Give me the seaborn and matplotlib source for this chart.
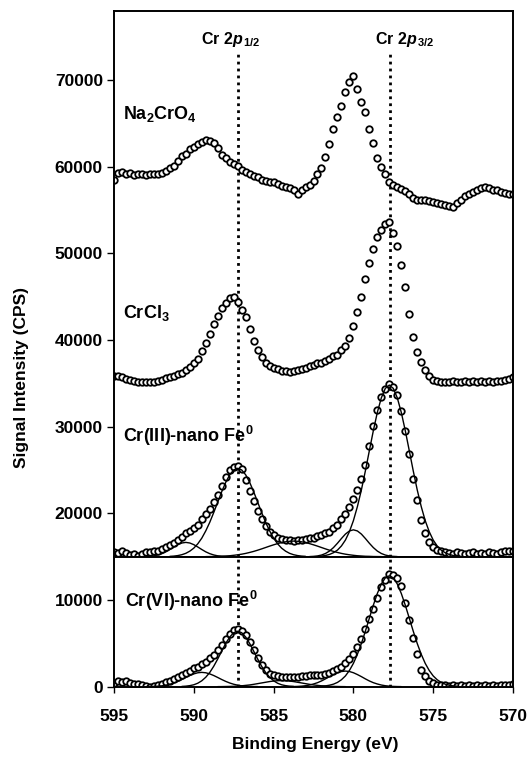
import numpy as np
import matplotlib
matplotlib.use('Agg')
import matplotlib.pyplot as plt
import seaborn as sns

# binding energy grid of the scans (eV), 0.25 eV steps from 595 down to 570
energy = np.linspace(595, 570, 101)

na2cro4 = [58500, 59300, 59400, 59100, 59300, 59000, 59200, 59100, 59000, 59100,
           59200, 59100, 59300, 59500, 59800, 60100, 60600, 61200, 61500, 62000,
           62300, 62600, 62900, 63100, 63000, 62700, 62100, 61400, 61000, 60500,
           60300, 60100, 59600, 59400, 59100, 58900, 58800, 58500, 58400, 58200,
           58200, 58000, 57800, 57600, 57500, 57300, 56900, 57300, 57600, 57900,
           58400, 59200, 59900, 61100, 62600, 64300, 65700, 67000, 68600, 69800,
           70500, 69000, 67500, 66300, 64300, 62700, 61000, 60000, 59200, 58200,
           57900, 57600, 57400, 57200, 56800, 56400, 56200, 56200, 56100, 56000,
           55900, 55800, 55700, 55600, 55500, 55300, 55800, 56200, 56600, 56900,
           57100, 57300, 57500, 57700, 57500, 57300, 57300, 57100, 57000, 56900,
           56900]

crcl3 = [35900, 35800, 35700, 35500, 35400, 35300, 35200, 35200, 35100, 35100,
         35200, 35300, 35400, 35600, 35700, 35900, 36100, 36200, 36500, 36900,
         37300, 37800, 38700, 39700, 40700, 41800, 42800, 43700, 44300, 44900,
         45000, 44400, 43500, 42600, 41300, 39900, 38800, 38000, 37400, 37000,
         36800, 36600, 36400, 36400, 36300, 36400, 36500, 36600, 36800, 37000,
         37100, 37300, 37400, 37600, 37800, 38100, 38300, 38800, 39300, 40200,
         41600, 43200, 45000, 47000, 48900, 50500, 51900, 52700, 53400, 53600,
         52300, 50800, 48700, 46100, 43000, 40300, 38600, 37500, 36500, 35800,
         35400, 35300, 35200, 35200, 35200, 35300, 35200, 35200, 35300, 35200,
         35300, 35200, 35300, 35200, 35300, 35200, 35300, 35300, 35400, 35500,
         35700]

cr3_nfe = [15500, 15400, 15600, 15400, 15200, 15300, 15100, 15300, 15500, 15500,
           15600, 15700, 15900, 16100, 16300, 16600, 16900, 17300, 17700, 18000,
           18300, 18700, 19300, 19900, 20500, 21300, 22100, 23100, 24200, 25000,
           25400, 25500, 25100, 23800, 22600, 21400, 20300, 19300, 18500, 17900,
           17500, 17200, 17000, 16900, 16900, 16800, 16900, 16900, 17000, 17100,
           17200, 17400, 17500, 17700, 17900, 18300, 18700, 19300, 19900, 20700,
           21700, 22700, 24000, 25600, 27800, 30100, 31900, 33400, 34400, 34900,
           34600, 33600, 31800, 29500, 26800, 24000, 21500, 19200, 17700, 16700,
           16100, 15800, 15600, 15500, 15400, 15300, 15500, 15400, 15300, 15400,
           15500, 15300, 15400, 15300, 15500, 15400, 15300, 15500, 15600, 15700,
           15600]

cr6_nfe = [400, 600, 500, 600, 400, 300, 300, 200, 100, 0,
           100, 200, 300, 500, 700, 900, 1100, 1400, 1600, 1800,
           2100, 2300, 2600, 2900, 3300, 3700, 4200, 4800, 5500, 6100,
           6500, 6600, 6400, 6000, 5100, 4200, 3300, 2500, 1900, 1500,
           1300, 1200, 1150, 1100, 1100, 1100, 1150, 1200, 1250, 1300,
           1300, 1350, 1400, 1500, 1600, 1800, 2000, 2300, 2700, 3200,
           3800, 4600, 5500, 6600, 7800, 9000, 10200, 11500, 12300, 13000,
           12900, 12500, 11600, 9600, 7700, 5600, 3800, 1900, 1200, 700,
           400, 250, 200, 150, 100, 150, 100, 150, 100, 150,
           100, 150, 100, 150, 100, 150, 100, 150, 200, 200,
           300]

# fitted components: (first energy, values above baseline every 0.25 eV)
cr3_base = 15000
cr3_fit_a = (593.25, [10, 20, 50, 100, 200, 350, 560, 830, 1120, 1390, 1580, 1650, 1580,
                      1390, 1120, 830, 560, 350, 200, 100, 50, 20, 10])
cr3_fit_b = (591.5, [40, 70, 130, 230, 390, 640, 990, 1490, 2140, 2980, 3970, 5100, 6300,
                     7500, 8580, 9450, 10010, 10200, 10010, 9450, 8580, 7500, 6300, 5100,
                     3970, 2980, 2140, 1490, 990, 640, 390, 230, 130, 70, 40])
cr3_fit_c = (589.25, [10, 15, 20, 40, 50, 80, 110, 160, 220, 290, 380, 490, 610, 750, 900,
                      1060, 1220, 1370, 1510, 1630, 1720, 1780, 1800, 1780, 1720, 1630, 1510,
                      1370, 1220, 1060, 900, 750, 610, 490, 380, 290, 220, 160, 110, 80, 50,
                      40, 20, 15, 10])
cr3_fit_d = (582.75, [15, 40, 90, 190, 370, 650, 1050, 1550, 2100, 2610, 2970, 3100, 2970,
                      2610, 2100, 1550, 1050, 650, 370, 190, 90, 40, 15])
cr3_fit_e = (582.0, [75, 140, 260, 460, 760, 1240, 1920, 2890, 4160, 5780, 7700, 9900, 12240,
                     14550, 16650, 18330, 19420, 19800, 19420, 18330, 16650, 14550, 12240,
                     9900, 7700, 5780, 4160, 2890, 1920, 1240, 760, 460, 260, 140, 75])

cr6_base = 0
cr6_fit_a = (593.0, [10, 15, 30, 60, 100, 175, 280, 425, 610, 825, 1060, 1285, 1475, 1605,
                     1650, 1605, 1475, 1285, 1060, 825, 610, 425, 280, 175, 100, 60, 30, 15, 10])
cr6_fit_b = (590.75, [30, 60, 120, 220, 400, 680, 1090, 1640, 2360, 3200, 4110, 4990, 5730,
                      6230, 6400, 6230, 5730, 4990, 4110, 3200, 2360, 1640, 1090, 680, 400,
                      220, 120, 60, 30])
cr6_fit_c = (588.5, [5, 10, 20, 30, 40, 70, 100, 150, 200, 270, 350, 430, 510, 590, 650, 690,
                     700, 690, 650, 590, 510, 430, 350, 270, 200, 150, 100, 70, 40, 30, 20, 10, 5])
cr6_fit_d = (584.0, [7, 15, 30, 60, 110, 190, 310, 460, 660, 900, 1160, 1400, 1610, 1750, 1800,
                     1750, 1610, 1400, 1160, 900, 660, 460, 310, 190, 110, 60, 30, 15, 7])
cr6_fit_e = (582.0, [50, 90, 170, 290, 490, 800, 1240, 1870, 2690, 3740, 4980, 6400, 7910,
                     9410, 10760, 11850, 12560, 12800, 12560, 11850, 10760, 9410, 7910, 6400,
                     4980, 3740, 2690, 1870, 1240, 800, 490, 290, 170, 90, 50])

peak_lines = [587.2, 577.7]

sns.set_style('ticks')
plt.rcParams['font.family'] = ['Liberation Sans', 'DejaVu Sans']
plt.rcParams['font.weight'] = 'bold'
plt.rcParams['text.color'] = 'black'
plt.rcParams['axes.labelcolor'] = 'black'
plt.rcParams['xtick.color'] = 'black'
plt.rcParams['ytick.color'] = 'black'
plt.rcParams['mathtext.fontset'] = 'custom'
plt.rcParams['mathtext.rm'] = 'Liberation Sans:bold'
plt.rcParams['mathtext.bf'] = 'Liberation Sans:bold'
plt.rcParams['mathtext.it'] = 'Liberation Sans:italic:bold'
plt.rcParams['mathtext.default'] = 'rm'


def scan(ax, vals):
    sns.scatterplot(x=energy, y=vals, ax=ax, marker='o', s=22, color='white',
                    edgecolor='black', linewidth=1.3, zorder=2, legend=False)


def fit(ax, comp, base):
    start, vals = comp
    xs = start - 0.25 * np.arange(len(vals))
    ys = np.array(vals) + base
    sns.lineplot(x=xs, y=ys, ax=ax, color='black', lw=1.0, estimator=None,
                 sort=False, zorder=3)


fig = plt.figure(figsize=(5.31, 7.57), dpi=100)
ax_top = fig.add_axes([0.2147, 0.2646, 0.7514, 0.7213])
ax_bot = fig.add_axes([0.2147, 0.0929, 0.7514, 0.1717])

for s in [na2cro4, crcl3, cr3_nfe]:
    scan(ax_top, s)
for c in [cr3_fit_a, cr3_fit_b, cr3_fit_c, cr3_fit_d, cr3_fit_e]:
    fit(ax_top, c, cr3_base)
scan(ax_bot, cr6_nfe)
for c in [cr6_fit_a, cr6_fit_b, cr6_fit_c, cr6_fit_d, cr6_fit_e]:
    fit(ax_bot, c, cr6_base)

ax_top.set_ylim(15000, 78000)
ax_bot.set_ylim(0, 15000)
ax_top.set_yticks([20000, 30000, 40000, 50000, 60000, 70000])
ax_bot.set_yticks([0, 10000])
for ax in [ax_top, ax_bot]:
    ax.set_xlim(595, 570)
    ax.set_xticks([595, 590, 585, 580, 575, 570])
    ax.set_xlabel('')
    ax.set_ylabel('')
    for sp in ax.spines.values():
        sp.set_visible(True)
        sp.set_linewidth(1.4)
        sp.set_color('black')
    ax.tick_params(axis='y', direction='out', length=5, width=1, labelsize=12.5, pad=3)
ax_top.tick_params(axis='x', bottom=False, labelbottom=False)
ax_bot.tick_params(axis='x', direction='out', length=4, width=1, labelsize=12.5, pad=12)

# dotted guides at the Cr 2p peak positions
for e in peak_lines:
    ax_top.axvline(e, ymin=0, ymax=(73000 - 15000) / 63000, color='black', lw=2,
                   ls=(0, (1, 1.5)), zorder=1)
    ax_bot.axvline(e, color='black', lw=2, ls=(0, (1, 1.5)), zorder=1)

ax_top.text(587.7, 74200, r'Cr 2$\mathit{p}_{\,1/2}$', ha='center', va='baseline',
            fontsize=11.5, fontweight='bold')
ax_top.text(576.8, 74200, r'Cr 2$\mathit{p}_{\,3/2}$', ha='center', va='baseline',
            fontsize=11.5, fontweight='bold')
ax_top.text(594.42, 65480, r'Na$_2$CrO$_4$', fontsize=13, fontweight='bold', va='baseline')
ax_top.text(594.42, 42510, r'CrCl$_3$', fontsize=13, fontweight='bold', va='baseline')
ax_top.text(594.42, 28270, r'Cr(III)-nano Fe$^0$', fontsize=13, fontweight='bold', va='baseline')
ax_bot.text(594.31, 9230, r'Cr(VI)-nano Fe$^0$', fontsize=13, fontweight='bold', va='baseline')

fig.text(22 / 531, 1 - 377 / 757, 'Signal Intensity (CPS)', rotation=90, ha='center',
         va='center', fontsize=12.5, fontweight='bold')
fig.text(315 / 531, 1 - 745 / 757, 'Binding Energy (eV)', ha='center', va='center',
         fontsize=12.5, fontweight='bold')

fig.savefig('out.png', dpi=100)
